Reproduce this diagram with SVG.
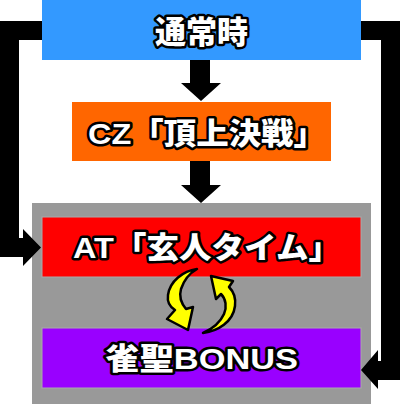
<svg xmlns="http://www.w3.org/2000/svg" width="400" height="404" viewBox="0 0 400 404">
<style>
.lbl{font-family:'Liberation Sans','Noto Sans CJK JP',sans-serif;font-weight:900;fill:#fff;stroke:#000;stroke-width:5;stroke-linejoin:round;paint-order:stroke;text-anchor:middle;dominant-baseline:central}
.conn{fill:#000}
.rot{fill:#ffff00;stroke:#000;stroke-width:2.5;stroke-linejoin:round}
.inner{stroke:#aaaaaa;stroke-width:1}
</style>
<rect width="400" height="404" fill="#fff"/>
<g id="group-at">
<rect x="32" y="203" width="339" height="201" fill="#999999"/>
</g>
<g id="node-normal">
<rect x="42" y="0" width="319" height="60" fill="#3399ff"/>
<text class="lbl" x="201.5" y="32" font-size="31" textLength="93" lengthAdjust="spacingAndGlyphs">通常時</text>
</g>
<g id="node-cz">
<rect x="72" y="102" width="259" height="59" fill="#ff6600"/>
<text class="lbl" x="207" y="133" font-size="30" textLength="238" lengthAdjust="spacingAndGlyphs">CZ「頂上決戦」</text>
</g>
<g id="node-at">
<rect class="inner" x="42" y="217" width="319" height="60" fill="#ff0000"/>
<text class="lbl" x="207" y="247" font-size="30" textLength="268" lengthAdjust="spacingAndGlyphs">AT「玄人タイム」</text>
</g>
<g id="node-bonus">
<rect class="inner" x="42" y="328" width="319" height="60" fill="#9900ff"/>
<text class="lbl" x="201.5" y="358" font-size="30" textLength="193" lengthAdjust="spacingAndGlyphs">雀聖BONUS</text>
</g>
<g id="connectors">
<polygon class="conn" points="190,60 210,60 210,83 221,83 201,101 181,83 190,83"/>
<polygon class="conn" points="190,161 210,161 210,185 221,185 201,203 181,185 190,185"/>
<polygon class="conn" points="42,21 42,40 19,40 19,238 23,238 23,229 41,247.5 23,266 23,257 0,257 0,21"/>
<polygon class="conn" points="361,21 400,21 400,380 378,380 378,389 361,370 378,350 378,361 381,361 381,40 361,40"/>
<path class="rot" d="M197,269 C183,271 170,281 168,295 C167,302 170,307 175,310 L167,319 L188,330 L193,307 L186,309 C181,303 179,296 181,289 C184,280 190,273 197,269 Z"/>
<path class="rot" d="M203,333 C218,331 233,322 235,306 C236,298 233,291 229,287 L233,281 L211,276 L216,299 L221,294 C226,299 227,307 224,314 C220,323 212,329 203,333 Z"/>
</g>
</svg>
